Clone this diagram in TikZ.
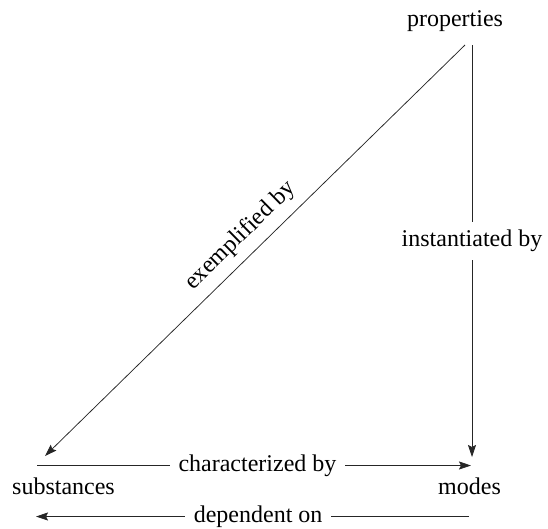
\documentclass[tikz,border=0pt]{standalone}
\usepackage{fontspec}
\setmainfont{Liberation Serif}
\usetikzlibrary{arrows.meta}
\tikzset{
  lab/.style={font=\fontsize{24}{28}\selectfont, inner sep=0pt},
  onlab/.style={font=\fontsize{24}{28}\selectfont, fill=white, inner xsep=8.5pt, inner ysep=8pt},
  sidelab/.style={font=\fontsize{24}{28}\selectfont, inner xsep=0pt, inner ysep=9pt},
  conn/.style={line width=0.75pt, draw=black!85, -{Stealth[length=12pt,width=8pt,inset=2pt]}},
}
\begin{document}
\begin{tikzpicture}[x=1pt,y=-1pt]
\useasboundingbox (0,0) rectangle (548,528);
\node[lab, anchor=base] (properties) at (455,26) {properties};
\node[lab, anchor=base] (substances) at (63.5,494) {substances};
\node[lab, anchor=base] (modes) at (469.5,494) {modes};
\coordinate (diagA) at (465,45);
\coordinate (diagB) at (45,456);
\coordinate (vertA) at (472,45);
\coordinate (vertB) at (472,457);
\coordinate (charA) at (37,465.5);
\coordinate (charB) at (471,465.5);
\coordinate (depA) at (469,516.5);
\coordinate (depB) at (36,516.5);
\draw[conn] (diagA) -- node[sidelab, midway, sloped, above] {exemplified by} (diagB);
\draw[conn] (vertA) -- node[onlab, pos=0.475] {instantiated by} (vertB);
\draw[conn] (charA) -- node[onlab, pos=0.508] {characterized by} (charB);
\draw[conn] (depA) -- node[onlab, pos=0.487] {dependent on} (depB);
\end{tikzpicture}
\end{document}
